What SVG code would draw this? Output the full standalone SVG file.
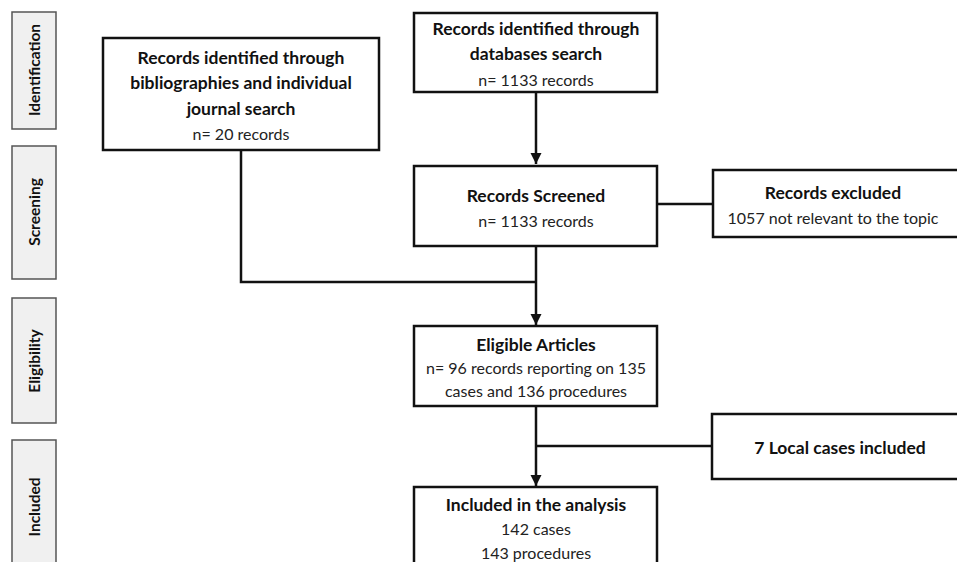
<svg xmlns="http://www.w3.org/2000/svg" width="957" height="562" viewBox="0 0 957 562">
<style>
.stage rect{fill:#f0f0f0;stroke:#555;stroke-width:1.5}
.stage text{font-family:Lato,"Open Sans",sans-serif;font-weight:bold;font-size:15.5px;fill:#111;text-anchor:middle;dominant-baseline:central}
.box rect{fill:#fff;stroke:#111;stroke-width:2.5}
.box text{font-family:Lato,"Open Sans",sans-serif;font-size:16px;fill:#222;text-anchor:middle;dominant-baseline:central}
.box text.b{font-weight:bold;font-size:17.5px;fill:#111}
.conn path{fill:none;stroke:#111;stroke-width:2.5}
</style>
<defs>
<marker id="arr" viewBox="0 0 10 10" refX="10" refY="5" markerWidth="4.5" markerHeight="4.5" markerUnits="strokeWidth" orient="auto">
<path d="M0,0 L10,5 L0,10 z" fill="#111"/>
</marker>
</defs>
<rect width="957" height="562" fill="#fff"/>
<g id="stage-identification" class="stage"><rect x="12" y="12" width="44" height="117"/><text transform="translate(34,70) rotate(-90)">Identification</text></g>
<g id="stage-screening" class="stage"><rect x="12" y="146" width="44" height="133"/><text transform="translate(34,212) rotate(-90)">Screening</text></g>
<g id="stage-eligibility" class="stage"><rect x="12" y="298" width="44" height="125"/><text transform="translate(34,361) rotate(-90)">Eligibility</text></g>
<g id="stage-included" class="stage"><rect x="12" y="440" width="44" height="135"/><text transform="translate(34,507) rotate(-90)">Included</text></g>
<g class="conn" id="connectors">
<path d="M536,92 V164" marker-end="url(#arr)"/>
<path d="M657,204 H713"/>
<path d="M241,150 V282 H536"/>
<path d="M536,246 V325" marker-end="url(#arr)"/>
<path d="M536,406 V486" marker-end="url(#arr)"/>
<path d="M536,446 H712"/>
</g>
<g id="box-biblio" class="box"><rect x="103" y="38" width="276" height="112"/>
<text class="b" x="241" y="57">Records identified through</text>
<text class="b" x="241" y="82">bibliographies and individual</text>
<text class="b" x="241" y="108">journal search</text>
<text x="241" y="133">n= 20 records</text></g>
<g id="box-databases" class="box"><rect x="414" y="13" width="243" height="79"/>
<text class="b" x="536" y="28">Records identified through</text>
<text class="b" x="536" y="53">databases search</text>
<text x="536" y="79">n= 1133 records</text></g>
<g id="box-screened" class="box"><rect x="414" y="166" width="243" height="80"/>
<text class="b" x="536" y="195">Records Screened</text>
<text x="536" y="220">n= 1133 records</text></g>
<g id="box-excluded" class="box"><rect x="713" y="170" width="260" height="67"/>
<text class="b" x="833" y="192">Records excluded</text>
<text x="833" y="217">1057 not relevant to the topic</text></g>
<g id="box-eligible" class="box"><rect x="414" y="326" width="243" height="80"/>
<text class="b" x="536" y="344">Eligible Articles</text>
<text x="536" y="367">n= 96 records reporting on 135</text>
<text x="536" y="390">cases and 136 procedures</text></g>
<g id="box-local" class="box"><rect x="712" y="414" width="260" height="65"/>
<text class="b" x="840" y="447">7 Local cases included</text></g>
<g id="box-included" class="box"><rect x="414" y="487" width="243" height="90"/>
<text class="b" x="536" y="504">Included in the analysis</text>
<text x="536" y="528">142 cases</text>
<text x="536" y="552">143 procedures</text></g>
</svg>
